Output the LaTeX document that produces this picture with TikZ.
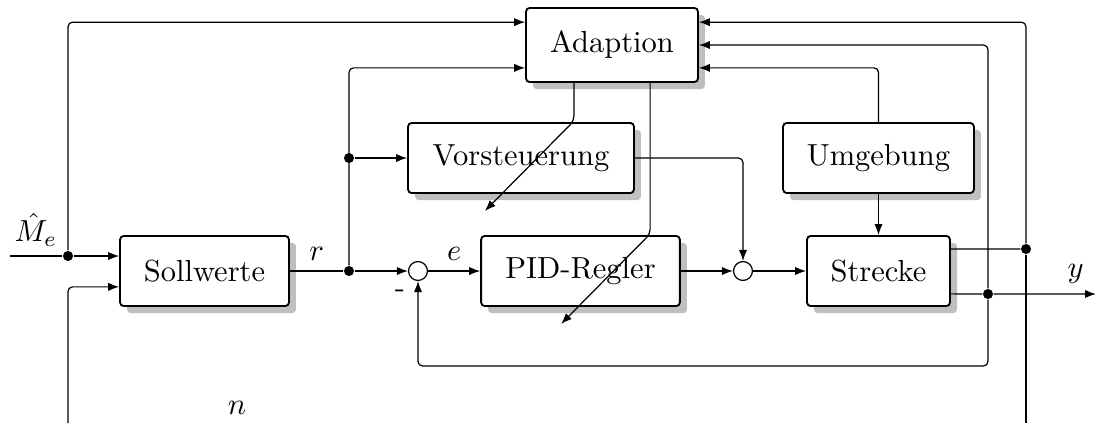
\documentclass[tikz,border=0pt]{standalone}
\usetikzlibrary{arrows.meta,shadows,calc}
\tikzset{
  block/.style={shape=rectangle,draw,semithick,rounded corners=1.2pt,fill=white,minimum height=23pt,
    drop shadow={shadow xshift=2.3pt,shadow yshift=-2.3pt,fill=black!25,opacity=1}},
  sum/.style={shape=circle,draw,minimum size=6.2pt,inner sep=0pt,fill=white},
  dot/.style={shape=circle,fill,minimum size=3.3pt,inner sep=0pt},
  >={Latex[length=3.6pt,width=2.7pt]}
}
\begin{document}
\begin{tikzpicture}[x=0.328pt,y=-0.328pt,rounded corners=1.5pt]
\useasboundingbox (0,0) rectangle (1096,423);
\node(soll) at (204.5,271)[block,minimum width=55.4pt]   {Sollwerte};
\node(adapt) at (612,45)[block,minimum width=56.4pt,minimum height=24.3pt] {Adaption};
\node(vor) at (521,158)[block,minimum width=74.1pt]      {Vorsteuerung};
\node(umg) at (878.5,158)[block,minimum width=62.6pt]    {Umgebung};
\node(pid) at (580.5,271)[block,minimum width=65.2pt]    {PID-Regler};
\node(str) at (878.5,271)[block,minimum width=46.9pt]    {Strecke};
\node(s1) at (418,271)[sum] {};
\node(s2) at (743,271)[sum] {};

\node(dMe) at (68,256)[dot] {};
\node(dr) at (349,271)[dot] {};
\node(dv) at (349,158)[dot] {};
\node(dy) at (988,294)[dot] {};
\node(dy2) at (1026,249)[dot] {};
\coordinate(inMe) at (10,256);
\coordinate(inN) at (68,423);
\coordinate(outY) at (1096,294);
\coordinate(outN) at (1026,423);
\coordinate(fb) at (988,366);

\node(Me) at (36,250)[anchor=south,inner sep=1pt] {$\hat{M}_e$};
\node(n) at (237,408) {$n$};
\node(minus) at (400,294) {-};

% Sollwerte and reference
\draw[->] (inMe) -- (dMe) -- (dMe -| soll.west);
\draw[->] (dMe) |- ([yshift=7.5pt]adapt.west);
\draw[->] (inN) |- ([yshift=-5.2pt]soll.west);
\draw[->] (soll.east) -- node[above] {$r$} (dr) -- (s1.west);
\draw[->] (dr) |- ([yshift=-7.5pt]adapt.west);

\path [->]
  (dv)     edge                                 (vor.west)
  (s1)     edge          node [above] {$e$}     (pid)
  (pid)    edge                                 (s2)
  (s2)     edge                                 (str)
  (umg)    edge                                 (str);

\draw[->] (vor.east) -| (s2.north);
\draw[->] (umg.north) |- ([yshift=-7.5pt]adapt.east);

% Adaption outputs
\draw[->] ([xshift=-12.5pt]adapt.south) -- ++(0,38) -- ++(-89,90);
\draw[->] ([xshift=12.5pt]adapt.south) -- ++(0,151) -- ++(-89,90);

% plant outputs and feedback
\draw[->] ([yshift=-7.5pt]str.east) -- (dy) -- node[pos=0.8,above] {$y$} (outY);
\draw[->] (dy) |- (adapt.east);
\draw[->] (dy) -- (fb) -| (s1.south);
\draw ([yshift=7.2pt]str.east) -- (dy2);
\draw[->] (dy2) |- ([yshift=7.5pt]adapt.east);
\draw (dy2) -- (outN);
\end{tikzpicture}
\end{document}
